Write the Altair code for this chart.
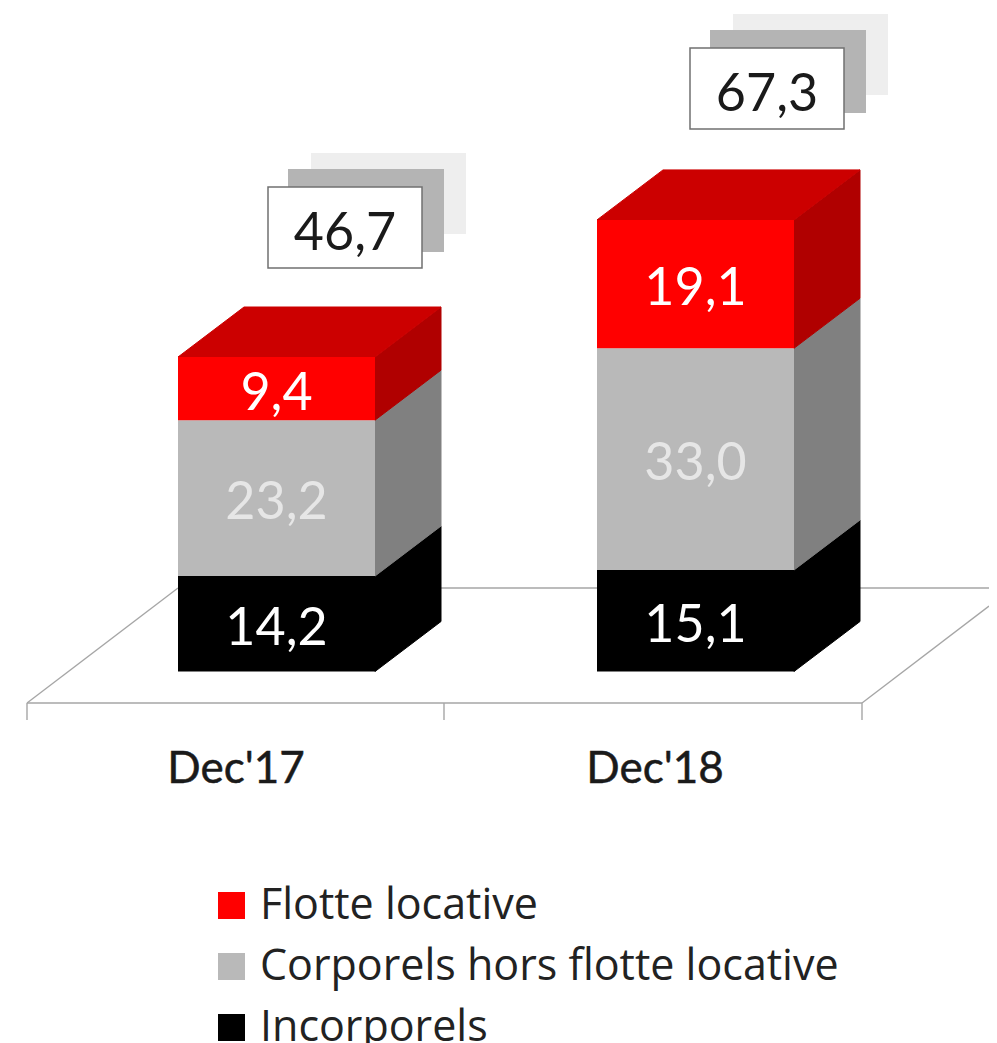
import altair as alt
import pandas as pd

categories = ["Dec'17", "Dec'18"]
incorporels = [14.2, 15.1]
corporels = [23.2, 33.0]
flotte = [9.4, 19.1]
totals = [46.7, 67.3]
series = ["Flotte locative", "Corporels hors flotte locative", "Incorporels"]

FONT = "Lato"
W, H = 981, 1035
PX_PER_UNIT = 6.72
BASE_PY = 671.5
DX, DY = 66, 50
BAR_W = 197
bar_left = [178, 597]
cat_x = [236, 655]
floor_ticks = [27, 444, 862]
FLOOR_FRONT, FLOOR_BACK, TICK_END = 703, 588, 720


def v(py):
    return (BASE_PY - py) / PX_PER_UNIT


DU = DY / PX_PER_UNIT
x_s = alt.Scale(domain=[8, 8 + W], nice=False, zero=False)
y_s = alt.Scale(domain=[v(8 + H), v(8)], nice=False, zero=False)
X = alt.X("x:Q", scale=x_s, axis=None)
Y = alt.Y("y:Q", scale=y_s, axis=None)
X2 = alt.X2("x2:Q")
Y2 = alt.Y2("y2:Q")

colors = {series[0]: "#FF0000", series[1]: "#B9B9B9", series[2]: "#000000"}
side_colors = {series[0]: "#B00000", series[1]: "#808080", series[2]: "#000000"}

fronts, faces, labels = [], [], []
for i, cat in enumerate(categories):
    left = bar_left[i]
    right = left + BAR_W
    lo = 0.0
    for name, val, tc in [
        (series[2], incorporels[i], "#FFFFFF"),
        (series[1], corporels[i], "#E6E6E6"),
        (series[0], flotte[i], "#FFFFFF"),
    ]:
        hi = lo + val
        fronts.append(dict(x=left, x2=right, y=lo, y2=hi, s=name))
        labels.append(dict(x=(left + right) / 2, y=(lo + hi) / 2,
                           t=f"{val:.1f}".replace(".", ","), c=tc))
        fid = f"{i}-{name}"
        faces.append(dict(id=fid, x=right, y=lo, y2=hi, c=side_colors[name]))
        faces.append(dict(id=fid, x=right + DX, y=lo + DU, y2=hi + DU, c=side_colors[name]))
        lo = hi
    tid = f"{i}-top"
    faces.append(dict(id=tid, x=left, y=lo, y2=lo, c="#CC0000"))
    faces.append(dict(id=tid, x=left + DX, y=lo, y2=lo + DU, c="#CC0000"))
    faces.append(dict(id=tid, x=right, y=lo, y2=lo + DU, c="#CC0000"))
    faces.append(dict(id=tid, x=right + DX, y=lo + DU, y2=lo + DU, c="#CC0000"))

# floor of the 3D scene and category ticks
floor = []
def seg(name, x0, py0, x1, py1):
    floor.append(dict(id=name, o=0, x=x0, y=v(py0)))
    floor.append(dict(id=name, o=1, x=x1, y=v(py1)))
seg("front", floor_ticks[0], FLOOR_FRONT, floor_ticks[-1], FLOOR_FRONT)
seg("back", 178, FLOOR_BACK, 8 + W, FLOOR_BACK)
seg("left", floor_ticks[0], FLOOR_FRONT, 178, FLOOR_BACK)
seg("right", floor_ticks[-1], FLOOR_FRONT, 8 + W, 606)
for t in floor_ticks:
    seg(f"t{t}", t, FLOOR_FRONT, t, TICK_END)

floor_l = alt.Chart(pd.DataFrame(floor)).mark_line(color="#A6A6A6", strokeWidth=1.4).encode(
    x=X, y=Y, detail="id:N", order="o:Q")

faces_l = alt.Chart(pd.DataFrame(faces)).mark_area(orient="vertical", interpolate="linear").encode(
    x=X, y=Y, y2=Y2, detail="id:N",
    fill=alt.Fill("c:N", scale=None),
    stroke=alt.Stroke("c:N", scale=None),
)

fronts_l = alt.Chart(pd.DataFrame(fronts)).mark_rect().encode(
    x=X, x2=X2, y=Y, y2=Y2,
    color=alt.Color(
        "s:N",
        scale=alt.Scale(domain=series, range=[colors[s] for s in series]),
        legend=alt.Legend(
            title=None, orient="none", legendX=202, legendY=876,
            symbolType="square", symbolSize=729, symbolStrokeWidth=0,
            labelFont="Open Sans", labelFontSize=43, labelColor="#222222",
            labelOffset=7, rowPadding=17, labelLimit=700,
        ),
    ),
)

vl = alt.Chart(pd.DataFrame(labels)).mark_text(
    font=FONT, fontSize=52, baseline="middle", align="center", dy=5
).encode(x=X, y=Y, text="t:N", fill=alt.Fill("c:N", scale=None))

# total boxes with their two shadow plates
tot_x = [268, 690]
tot_top = [187, 48]
BOX_W, BOX_H = 154, 81
plates = []
for i in range(len(totals)):
    plates.append(dict(x=tot_x[i] + 43, x2=tot_x[i] + 44 + BOX_W, y=v(tot_top[i] - 34),
                       y2=v(tot_top[i] - 34 + BOX_H), c="#EEEEEE"))
    plates.append(dict(x=tot_x[i] + 20, x2=tot_x[i] + 22 + BOX_W, y=v(tot_top[i] - 18),
                       y2=v(tot_top[i] - 18 + BOX_H + 2), c="#B4B4B4"))
plates_l = alt.Chart(pd.DataFrame(plates)).mark_rect().encode(
    x=X, x2=X2, y=Y, y2=Y2, fill=alt.Fill("c:N", scale=None))

boxes = [dict(x=tot_x[i], x2=tot_x[i] + BOX_W, y=v(tot_top[i]), y2=v(tot_top[i] + BOX_H))
         for i in range(len(totals))]
boxes_l = alt.Chart(pd.DataFrame(boxes)).mark_rect(
    fill="#FFFFFF", stroke="#707070", strokeWidth=1.5
).encode(x=X, x2=X2, y=Y, y2=Y2)

tot_txt = [dict(x=tot_x[i] + BOX_W / 2, y=v(tot_top[i] + BOX_H / 2),
                t=f"{totals[i]:.1f}".replace(".", ",")) for i in range(len(totals))]
tot_l = alt.Chart(pd.DataFrame(tot_txt)).mark_text(
    font=FONT, fontSize=52, baseline="middle", align="center", color="#1A1A1A", dy=6
).encode(x=X, y=Y, text="t:N")

cat_txt = [dict(x=cat_x[i], y=v(767), t=categories[i]) for i in range(len(categories))]
cat_l = alt.Chart(pd.DataFrame(cat_txt)).mark_text(
    font=FONT, fontSize=44, baseline="middle", align="center", color="#1A1A1A", dy=3,
    stroke="#1A1A1A", strokeWidth=0.5,
).encode(x=X, y=Y, text="t:N")

chart = alt.layer(
    floor_l, plates_l, boxes_l, tot_l, faces_l, fronts_l, vl, cat_l
).resolve_scale(fill="independent", stroke="independent").properties(
    width=W, height=H, padding=0,
    autosize=alt.AutoSizeParams(type="none"),
).configure_view(stroke=None)

chart.save("out.html", embed_options={"renderer": "svg", "actions": False})
